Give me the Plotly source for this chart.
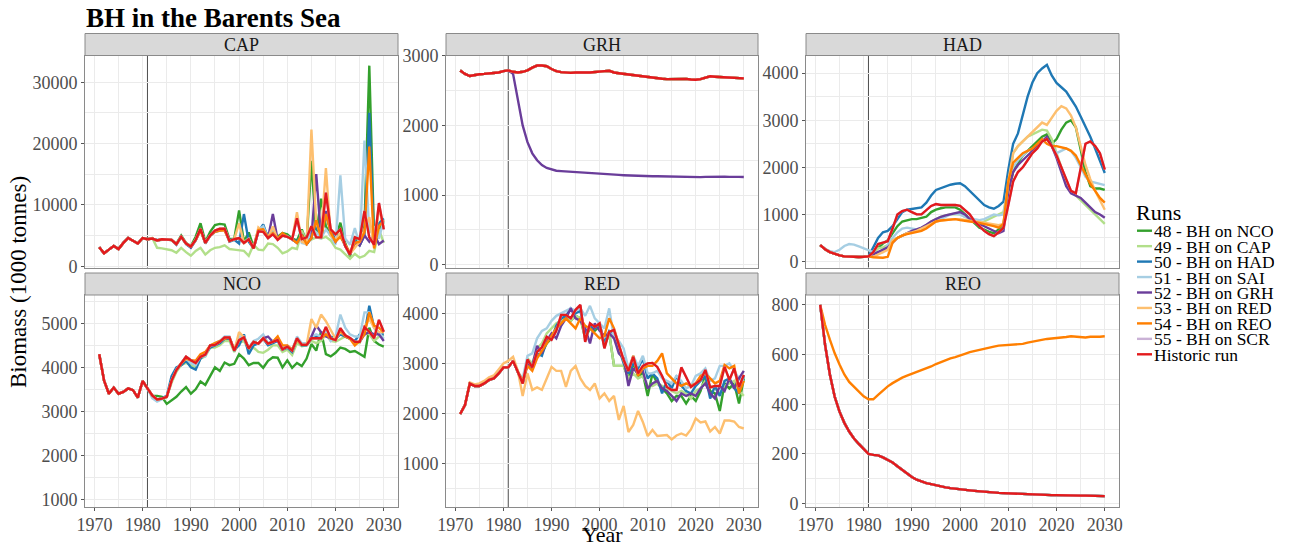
import plotly.graph_objects as go

# ---------------------------------------------------------------- data
YEARS = list(range(1971, 2031))

RUNS = ["48 - BH on NCO", "49 - BH on CAP", "50 - BH on HAD", "51 - BH on SAI",
        "52 - BH on GRH", "53 - BH on RED", "54 - BH on REO", "55 - BH on SCR",
        "Historic run"]
COLORS = ["#33a02c", "#b2df8a", "#1f78b4", "#a6cee3", "#6a3d9a",
          "#fdbf6f", "#ff7f00", "#cab2d6", "#e31a1c"]
PANELS = ["CAP", "GRH", "HAD", "NCO", "RED", "REO"]

# Historic biomass, 1971-2030 (1000 tonnes)
cap_hist = [3100, 2100, 2700, 3300, 2800, 3800, 4600, 4200, 3700, 4600,
            4400, 4500, 4200, 4400, 4300, 4300, 3600, 4800, 3700, 3200,
            4300, 6100, 3800, 5000, 5800, 6100, 6100, 4100, 4400, 4600,
            3800, 4400, 2900, 5700, 5600, 4600, 5200, 4300, 5000, 4800,
            4400, 7800, 4400, 4700, 6500, 4700, 4700, 12000, 6000, 5200,
            6000, 3300, 1900, 4700, 4400, 9000, 4700, 3500, 10300, 6000]
grh_hist = [2790, 2740, 2710, 2725, 2735, 2740, 2745, 2750, 2760, 2780,
            2790, 2770, 2760, 2770, 2790, 2830, 2860, 2860, 2850, 2810,
            2780, 2765, 2755, 2755, 2760, 2765, 2760, 2760, 2770, 2775,
            2780, 2785, 2760, 2750, 2740, 2735, 2725, 2715, 2705, 2690,
            2680, 2675, 2670, 2665, 2665, 2670, 2675, 2668, 2660, 2655,
            2665, 2690, 2705, 2700, 2695, 2700, 2695, 2690, 2685, 2675]
had_hist = [350, 260, 200, 160, 130, 110, 100, 95, 95, 100,
            110, 200, 370, 400, 430, 700, 1000, 1070, 1100, 1050,
            1000, 1000, 1100, 1180, 1220, 1200, 1200, 1200, 1200, 1180,
            1100, 1000, 850, 750, 650, 580, 540, 620, 720, 1200,
            1700, 1900, 2000, 2150, 2300, 2400, 2550, 2600, 2450, 2250,
            2000, 1750, 1500, 1450, 2000, 2500, 2550, 2450, 2300, 1950]
nco_hist = [4300, 3700, 3400, 3540, 3400, 3440, 3520, 3480, 3310, 3690,
            3520, 3360, 3270, 3290, 3330, 3700, 3940, 4090, 4240, 4160,
            4100, 4240, 4290, 4500, 4510, 4580, 4680, 4680, 4380, 4620,
            4680, 4430, 4580, 4540, 4660, 4540, 4580, 4620, 4410, 4470,
            4380, 4660, 4510, 4510, 4660, 4660, 4660, 4920, 4660, 4620,
            4890, 4730, 4670, 4580, 4580, 4920, 4810, 4660, 5080, 4810]
red_hist = [1990, 2170, 2600, 2550, 2550, 2600, 2670, 2700, 2800, 2920,
            2920, 3050, 2830, 2600, 3080, 2920, 3230, 3320, 3530, 3470,
            3650, 3970, 3970, 3900, 4070, 4170, 3430, 3800, 3730, 3800,
            3300, 3630, 3670, 3370, 3070, 2850, 3130, 2800, 2950, 3000,
            3010, 2930, 2750, 2530, 2470, 2470, 2920, 2730, 2530, 2600,
            2670, 2870, 2520, 2550, 2550, 2930, 2670, 2900, 2530, 2770]
reo_hist = [800, 640, 520, 430, 370, 325, 290, 262, 240, 220,
            200, 196, 194, 186, 175, 165, 150, 135, 120, 107,
            96, 88, 82, 78, 73, 69, 65, 62, 59, 57,
            55, 53, 51, 49, 47, 46, 44, 43, 42, 41,
            40, 39, 38, 37, 37, 36, 35, 35, 34, 34,
            33, 33, 33, 32, 32, 32, 31, 31, 30, 30]

# Scenario runs: 49 values cover 1982-2030 (earlier years follow the
# historic run), 60 values cover 1971-2030.
cap_48 = [4500, 4200, 4300, 4400, 4200, 3700, 5000, 3800, 3300, 4800,
          7000, 4000, 5600, 6700, 6900, 6800, 4400, 4500, 9100, 4000,
          5500, 3200, 6000, 6200, 5000, 5600, 4800, 5400, 5200, 4500,
          4200, 6000, 4000, 17200, 5200, 11000, 6500, 5000, 4500, 7100,
          3800, 1600, 4800, 3400, 6500, 32700, 4500, 6000, 7200]
cap_49 = [4600, 3000, 2900, 2800, 2600, 2200, 3000, 2300, 1700, 2500,
          3000, 1900, 2600, 3000, 3100, 3400, 2800, 2700, 2600, 2500,
          1700, 3500, 2700, 2600, 3700, 3600, 3000, 2100, 2400, 3000,
          2800, 5800, 4000, 4400, 4700, 4500, 4800, 4200, 3000, 2700,
          2000, 1200, 2000, 1400, 1700, 2500, 2300, 6000, 3800]
cap_50 = [4500, 4300, 4300, 4300, 4300, 3500, 4800, 3600, 3000, 4200,
          6000, 3700, 5000, 5600, 5800, 6000, 4000, 4300, 3700, 8500,
          4000, 2900, 5600, 6800, 4600, 5300, 4400, 5100, 4800, 4500,
          4000, 5200, 3500, 4800, 6500, 5000, 8500, 5800, 4300, 5200,
          3300, 1900, 4200, 3400, 5000, 25000, 3700, 7000, 7800]
cap_51 = [4500, 4200, 4400, 4300, 4300, 3600, 4800, 3700, 3200, 4300,
          6000, 3800, 5000, 5800, 6000, 6000, 4200, 4400, 4600, 3900,
          4500, 3000, 6000, 6500, 4600, 5500, 4400, 5100, 4900, 4300,
          8000, 3800, 3600, 6200, 5500, 4600, 6000, 5000, 3500, 14800,
          4500, 3500, 6200, 3500, 20500, 5500, 6500, 4500, 7500]
cap_52 = [4500, 4200, 4400, 4300, 4300, 3600, 4800, 3700, 3100, 4300,
          6000, 3800, 5000, 5700, 6000, 6100, 4200, 4400, 4600, 3800,
          4400, 2900, 5700, 5600, 4600, 8500, 4300, 5000, 4800, 4400,
          3800, 5100, 3600, 4600, 15000, 4600, 9000, 5500, 4000, 5200,
          3300, 2100, 3800, 3400, 5000, 4000, 5200, 3600, 4200]
cap_53 = [4500, 4200, 4400, 4300, 4300, 3600, 4800, 3700, 3200, 4300,
          6100, 3800, 5000, 5800, 6100, 6100, 4100, 4400, 7000, 3800,
          4400, 2900, 6300, 5600, 4600, 6500, 4300, 5000, 4800, 4400,
          8800, 4000, 3600, 22300, 7000, 5000, 16000, 5000, 4200, 5400,
          3300, 2000, 3000, 4000, 6000, 8000, 3000, 9500, 6300]
cap_54 = [4500, 4200, 4400, 4300, 4300, 3600, 4800, 3700, 3200, 4300,
          5800, 3800, 5000, 5600, 5800, 5800, 4100, 4400, 4600, 3800,
          4400, 2900, 5900, 6000, 4700, 5400, 4500, 5400, 4800, 4400,
          3800, 5100, 3600, 4600, 7500, 4600, 8500, 5500, 4000, 4800,
          3400, 2200, 3800, 4000, 5500, 19500, 2900, 6500, 7500]

grh_52 = [2740, 2350, 2000, 1760, 1600, 1500, 1430, 1390, 1365, 1350,
          1345, 1340, 1332, 1325, 1320, 1315, 1310, 1305, 1305, 1300,
          1296, 1292, 1290, 1286, 1282, 1280, 1278, 1275, 1272, 1270,
          1270, 1268, 1265, 1265, 1262, 1262, 1260, 1262, 1262, 1258,
          1262, 1265, 1265, 1268, 1265, 1262, 1265, 1262, 1260]

had_48 = [200, 300, 380, 450, 600, 750, 850, 880, 900, 900,
          920, 950, 1050, 1100, 1130, 1150, 1150, 1150, 1100, 1000,
          900, 800, 720, 680, 630, 600, 680, 800, 1500, 1900,
          2100, 2250, 2350, 2450, 2550, 2650, 2700, 2500, 2600, 2800,
          2950, 3000, 2850, 2400, 1900, 1600, 1550, 1550, 1520]
had_49 = [180, 280, 300, 350, 450, 500, 550, 600, 620, 650,
          700, 750, 850, 900, 950, 980, 1000, 1000, 1000, 950,
          900, 850, 800, 850, 900, 950, 1000, 1050, 1600, 2300,
          2450, 2550, 2650, 2700, 2750, 2800, 2780, 2600, 2300, 2000,
          1700, 1500, 1400, 1300, 1200, 1100, 1000, 900, 800]
had_50 = [300, 500, 620, 650, 750, 900, 1050, 1100, 1120, 1130,
          1150, 1250, 1400, 1520, 1560, 1600, 1630, 1650, 1660, 1600,
          1500, 1400, 1300, 1200, 1150, 1120, 1180, 1270, 1950, 2500,
          2720, 3100, 3500, 3800, 4000, 4100, 4175, 3950, 3790, 3700,
          3610, 3450, 3290, 3080, 2870, 2650, 2400, 2150, 1880]
had_51 = [350, 270, 220, 200, 250, 330, 370, 360, 320, 280,
          230, 200, 180, 200, 350, 500, 620, 700, 720, 700,
          680, 700, 750, 800, 850, 900, 950, 1000, 1020, 1000,
          950, 920, 900, 880, 900, 950, 1000, 980, 1000, 1600,
          2000, 2150, 2250, 2350, 2400, 2450, 2550, 2600, 2450, 2300,
          2350, 2400, 2350, 2200, 2000, 1800, 1700, 1680, 1650, 1620]
had_52 = [150, 200, 250, 300, 400, 500, 550, 600, 650, 680,
          720, 780, 850, 900, 950, 980, 1000, 1020, 1050, 1000,
          900, 850, 800, 750, 700, 650, 600, 650, 1500, 1900,
          2050, 2150, 2250, 2350, 2450, 2550, 2650, 2450, 2200, 1900,
          1600, 1450, 1400, 1350, 1250, 1150, 1050, 1000, 930]
had_53 = [100, 150, 200, 250, 450, 500, 550, 600, 620, 650,
          700, 750, 800, 850, 870, 880, 900, 900, 900, 880,
          860, 850, 840, 820, 800, 780, 770, 800, 1700, 2300,
          2450, 2550, 2650, 2750, 2850, 2950, 2900, 3050, 3200, 3300,
          3250, 3100, 2850, 2450, 2050, 1750, 1500, 1300, 1100]
had_54 = [90, 80, 80, 100, 400, 500, 550, 580, 600, 620,
          650, 700, 780, 850, 870, 880, 890, 900, 880, 860,
          850, 840, 820, 800, 780, 750, 720, 800, 1700, 2100,
          2200, 2300, 2350, 2400, 2500, 2600, 2500, 2450, 2450, 2420,
          2400, 2350, 2250, 2050, 1850, 1650, 1500, 1350, 1250]

nco_48 = [3350, 3350, 3330, 3170, 3250, 3330, 3450, 3550, 3400, 3500,
          3680, 3600, 3800, 4000, 3920, 4110, 4050, 4080, 4300, 4200,
          4050, 4100, 4100, 3990, 4150, 4230, 4220, 4000, 4160, 3990,
          4100, 4030, 4200, 4530, 4380, 4820, 4300, 4250, 4330, 4450,
          4420, 4350, 4370, 4300, 4240, 4900, 4600, 4520, 4470]
nco_49 = [3360, 3250, 3280, 3320, 3650, 3900, 4050, 4100, 4050, 4000,
          4200, 4250, 4450, 4450, 4500, 4600, 4600, 4350, 4550, 4600,
          4400, 4450, 4350, 4330, 4400, 4500, 4500, 4350, 4400, 4280,
          4550, 4480, 4500, 4600, 4550, 4600, 4750, 4600, 4580, 4650,
          4700, 4650, 4550, 4550, 4800, 4750, 4600, 4700, 4750]
nco_50 = [3350, 3250, 3300, 3350, 3800, 4000, 4050, 4150, 4000, 3950,
          4200, 4300, 4450, 4500, 4550, 4650, 4650, 4400, 4500, 4750,
          4300, 4500, 4550, 4650, 4500, 4550, 4600, 4400, 4450, 4350,
          4650, 4500, 4500, 4650, 4700, 4650, 4800, 4700, 4650, 4750,
          4700, 4650, 4600, 4750, 4750, 5400, 4900, 4750, 4750]
nco_51 = [3300, 3220, 3280, 3330, 3700, 3950, 4100, 4200, 4100, 4050,
          4250, 4250, 4500, 4550, 4600, 4700, 4700, 4400, 4700, 4700,
          4450, 4600, 4650, 4750, 4550, 4600, 4650, 4450, 4500, 4400,
          4700, 4550, 4550, 4700, 4750, 4700, 4800, 4600, 4700, 5200,
          4900, 4750, 4700, 4700, 5250, 5250, 4900, 4800, 4650]
nco_52 = [3360, 3270, 3290, 3330, 3700, 3940, 4090, 4240, 4160, 4100,
          4240, 4290, 4500, 4510, 4580, 4680, 4680, 4380, 4620, 4680,
          4430, 4580, 4540, 4660, 4700, 4580, 4620, 4410, 4470, 4380,
          4660, 4510, 4510, 4700, 4950, 4800, 4700, 4660, 4620, 4850,
          4730, 4670, 4580, 4580, 4750, 4800, 4750, 4750, 4600]
nco_53 = [3360, 3270, 3290, 3330, 3700, 3940, 4090, 4240, 4160, 4100,
          4240, 4290, 4500, 4510, 4580, 4680, 4680, 4380, 4800, 4680,
          4430, 4580, 4540, 4660, 4540, 4580, 4700, 4410, 4470, 4380,
          4660, 4510, 4510, 5100, 4900, 5200, 5050, 4850, 4650, 4800,
          4730, 4670, 4580, 4580, 4920, 5100, 4900, 4800, 4800]
nco_54 = [3360, 3270, 3290, 3330, 3700, 3940, 4090, 4200, 4160, 4150,
          4300, 4350, 4500, 4550, 4600, 4650, 4680, 4400, 4620, 4680,
          4430, 4580, 4540, 4660, 4540, 4580, 4700, 4500, 4500, 4400,
          4620, 4510, 4510, 4660, 4660, 4660, 4750, 4660, 4620, 4850,
          4700, 4650, 4500, 4600, 4750, 5250, 4950, 4900, 4800]

red_48 = [3050, 2830, 2600, 3000, 2950, 3150, 3200, 3400, 3500, 3700,
          3900, 3900, 3850, 3950, 3900, 3500, 3700, 3650, 3750, 3350,
          3600, 2950, 2950, 2950, 2700, 3000, 2750, 2800, 2350, 2800,
          2600, 2500, 2400, 2250, 2350, 2350, 2200, 2350, 2250, 2450,
          2750, 2450, 2400, 2050, 2600, 2500, 2600, 2200, 2700]
red_49 = [3050, 2830, 2650, 3100, 3000, 3300, 3400, 3600, 3700, 3800,
          3850, 3900, 3850, 3950, 3900, 3550, 3750, 3700, 3800, 3400,
          3600, 2950, 2950, 2950, 2700, 2800, 2700, 2750, 2550, 2550,
          2600, 2550, 2500, 2450, 2400, 2450, 2400, 2300, 2450, 2500,
          2650, 2550, 2500, 2400, 2550, 2600, 2650, 2450, 2350]
red_50 = [3050, 2830, 2600, 3000, 2900, 3200, 3150, 3450, 3500, 3750,
          3900, 3950, 4100, 4000, 4050, 3600, 3750, 3700, 3800, 3400,
          3650, 3600, 3300, 3000, 2800, 3000, 2900, 3100, 2700, 2800,
          2700, 2400, 2650, 2500, 2750, 2550, 2450, 2400, 2550, 2650,
          2750, 2300, 2550, 2350, 2650, 2700, 2500, 2400, 2750]
red_51 = [3050, 2830, 2700, 3150, 3200, 3500, 3650, 3700, 3850, 3950,
          4000, 4050, 4100, 4050, 4100, 3950, 4150, 3900, 3800, 3700,
          4100, 3500, 3450, 3300, 2900, 3150, 2950, 3150, 2800, 2800,
          2850, 2700, 2650, 2600, 2750, 2650, 2500, 2550, 2750, 2800,
          2900, 2650, 2700, 2950, 2950, 3000, 2850, 2700, 2650]
red_52 = [3050, 2830, 2600, 3000, 2950, 3350, 3200, 3450, 3600, 3500,
          3750, 3900, 4100, 3900, 3850, 3700, 3400, 3800, 3650, 3550,
          3600, 3500, 3200, 3100, 2550, 2900, 2800, 2850, 2500, 2600,
          2650, 2500, 2450, 2350, 2250, 2400, 2350, 2400, 2350, 2500,
          2600, 2400, 2300, 2550, 2450, 2700, 2500, 2700, 2850]
red_53 = [1990, 2170, 2620, 2580, 2600, 2650, 2720, 2760, 2880, 3000,
          3050, 3130, 2850, 2350, 2800, 2470, 2520, 2470, 2700, 2930,
          2850, 2850, 2530, 2850, 2950, 2700, 2550, 2470, 2600, 2300,
          2400, 2250, 2350, 1870, 2150, 1630, 1770, 2050, 1830, 1550,
          1670, 1550, 1560, 1570, 1480, 1560, 1600, 1560, 1680, 1900,
          1820, 1840, 1640, 1730, 1600, 1860, 1860, 1840, 1730, 1700]
red_54 = [3050, 2830, 2650, 2950, 2850, 3100, 3250, 3400, 3550, 3700,
          3800, 3900, 3800, 3700, 3900, 3750, 3700, 3600, 3500, 3550,
          3900, 3700, 3350, 3050, 2850, 3150, 2750, 2900, 2950, 2950,
          3050, 3200, 2800, 2700, 2600, 2550, 2600, 2550, 2600, 2750,
          2800, 2700, 2600, 2650, 2970, 2900, 2950, 2400, 2650]

reo_54 = [800, 720, 660, 605, 560, 520, 490, 470, 450, 432,
          420, 420, 438, 455, 472, 485, 497, 507, 515, 522,
          530, 537, 544, 552, 562, 570, 578, 585, 590, 595,
          603, 610, 615, 620, 624, 628, 632, 636, 637, 638,
          639, 640, 643, 648, 652, 657, 661, 663, 665, 666,
          667, 671, 674, 672, 671, 669, 672, 671, 672, 674]

PANEL_HIST = {"CAP": cap_hist, "GRH": grh_hist, "HAD": had_hist,
              "NCO": nco_hist, "RED": red_hist, "REO": reo_hist}
PANEL_RUNS = {
    "CAP": {0: cap_48, 1: cap_49, 2: cap_50, 3: cap_51, 4: cap_52, 5: cap_53, 6: cap_54},
    "GRH": {4: grh_52},
    "HAD": {0: had_48, 1: had_49, 2: had_50, 3: had_51, 4: had_52, 5: had_53, 6: had_54},
    "NCO": {0: nco_48, 1: nco_49, 2: nco_50, 3: nco_51, 4: nco_52, 5: nco_53, 6: nco_54},
    "RED": {0: red_48, 1: red_49, 2: red_50, 3: red_51, 4: red_52, 5: red_53, 6: red_54},
    "REO": {6: reo_54},
}

# y-axis ranges, first tick and tick spacing per panel
Y_RANGE = {"CAP": [-212, 34356], "GRH": [-39, 3004], "HAD": [-127, 4374],
           "NCO": [825, 5645], "RED": [132, 4366], "REO": [-14, 840]}
Y_TICK = {"CAP": (0, 10000), "GRH": (0, 1000), "HAD": (0, 1000),
          "NCO": (1000, 1000), "RED": (1000, 1000), "REO": (0, 200)}

# ---------------------------------------------------------------- layout
W, H = 1296, 549
FONT = "Liberation Serif"
X_DOM = [(85, 398), (446, 758), (806, 1119)]          # px, left-right
PLOT_Y = [(55.5, 267.5), (295, 507)]                   # px, top-bottom
STRIP_Y = [(33.5, 55.5), (273, 295)]
BORDER = "#8a8a8a"
GRID = "#ebebeb"


def px_x(v):
    return v / W


def px_y(v):
    return 1 - v / H


def series(panel, idx):
    hist = PANEL_HIST[panel]
    vals = PANEL_RUNS[panel].get(idx)
    if vals is None:
        return hist
    if len(vals) == len(YEARS):
        return vals
    return hist[:len(YEARS) - len(vals)] + vals


fig = go.Figure()
layout = dict(
    width=W, height=H, margin=dict(l=0, r=0, t=0, b=0, autoexpand=False),
    paper_bgcolor="white", plot_bgcolor="white", showlegend=False,
    font=dict(family=FONT, color="#4d4d4d"),
)
shapes, annotations = [], []

for p, panel in enumerate(PANELS):
    row, col = divmod(p, 3)
    sfx = "" if p == 0 else str(p + 1)
    xa, ya = "x" + sfx, "y" + sfx
    for r in range(9):
        fig.add_trace(go.Scatter(
            x=YEARS, y=series(panel, r) if r < 8 else PANEL_HIST[panel],
            mode="lines", name=RUNS[r], xaxis=xa, yaxis=ya,
            line=dict(color=COLORS[r], width=2.4),
            hoverinfo="x+y+name"))

    x0, x1 = X_DOM[col]
    t, b = PLOT_Y[row]
    bottom = row == 1
    layout["xaxis" + sfx] = dict(
        domain=[px_x(x0), px_x(x1)], anchor=ya, range=[1968.05, 2032.95],
        automargin=False,
        tick0=1970, dtick=10, showgrid=True, gridcolor=GRID, gridwidth=1,
        minor=dict(dtick=5, tick0=1970, showgrid=True, gridcolor=GRID, gridwidth=0.6),
        showline=True, mirror=True, linecolor=BORDER, linewidth=1,
        zeroline=False, showticklabels=bottom,
        ticks="outside" if bottom else "", ticklen=3, tickcolor="#555555",
        ticklabelstandoff=-2,
        tickfont=dict(family=FONT, size=18, color="#4d4d4d"))
    lo, step = Y_TICK[panel]
    layout["yaxis" + sfx] = dict(
        domain=[px_y(b), px_y(t)], anchor=xa, range=Y_RANGE[panel],
        automargin=False,
        tick0=lo, dtick=step, tickformat="d",
        showgrid=True, gridcolor=GRID, gridwidth=1,
        minor=dict(dtick=step / 2, tick0=lo, showgrid=True, gridcolor=GRID, gridwidth=0.6),
        showline=True, mirror=True, linecolor=BORDER, linewidth=1,
        zeroline=False, ticks="outside", ticklen=3, tickcolor="#555555",
        tickfont=dict(family=FONT, size=18, color="#4d4d4d"))

    # reference year marker
    shapes.append(dict(type="line", xref=xa, yref=ya + " domain",
                       x0=1981, x1=1981, y0=0, y1=1, layer="below",
                       line=dict(color="#4d4d4d", width=1)))
    # facet strip
    s0, s1 = STRIP_Y[row]
    shapes.append(dict(type="rect", xref="paper", yref="paper",
                       x0=px_x(x0), x1=px_x(x1), y0=px_y(s1), y1=px_y(s0),
                       fillcolor="#d9d9d9", line=dict(color=BORDER, width=1)))
    annotations.append(dict(text=panel, xref="paper", yref="paper",
                            x=px_x((x0 + x1) / 2), y=px_y((s0 + s1) / 2),
                            xanchor="center", yanchor="middle", showarrow=False,
                            font=dict(family=FONT, size=18, color="#1a1a1a")))

# titles
annotations.append(dict(text="<b>BH in the Barents Sea</b>", xref="paper", yref="paper",
                        x=px_x(84), y=px_y(18), xanchor="left", yanchor="middle",
                        showarrow=False, font=dict(family=FONT, size=27, color="black")))
annotations.append(dict(text="Year", xref="paper", yref="paper",
                        x=px_x(602), y=0, xanchor="center", yanchor="bottom",
                        showarrow=False,
                        font=dict(family=FONT, size=22, color="black")))
annotations.append(dict(text="Biomass (1000 tonnes)", xref="paper", yref="paper",
                        x=px_x(18), y=px_y(282), xanchor="center", yanchor="middle",
                        textangle=-90, showarrow=False,
                        font=dict(family=FONT, size=23, color="black")))

# legend
annotations.append(dict(text="Runs", xref="paper", yref="paper",
                        x=px_x(1134), y=px_y(212), xanchor="left", yanchor="middle",
                        height=20, showarrow=False,
                        font=dict(family=FONT, size=22, color="black")))
for i, (name, color) in enumerate(zip(RUNS, COLORS)):
    yc = 230.7 + i * 15.45
    shapes.append(dict(type="line", xref="paper", yref="paper",
                       x0=px_x(1137), x1=px_x(1152), y0=px_y(yc), y1=px_y(yc),
                       line=dict(color=color, width=2.4)))
    annotations.append(dict(text=name, xref="paper", yref="paper",
                            x=px_x(1152), y=px_y(yc), xanchor="left", yanchor="middle",
                            height=15, showarrow=False,
                            font=dict(family=FONT, size=17.5, color="black")))

layout["shapes"] = shapes
layout["annotations"] = annotations
fig.update_layout(**layout)
fig.write_html("out.html")
